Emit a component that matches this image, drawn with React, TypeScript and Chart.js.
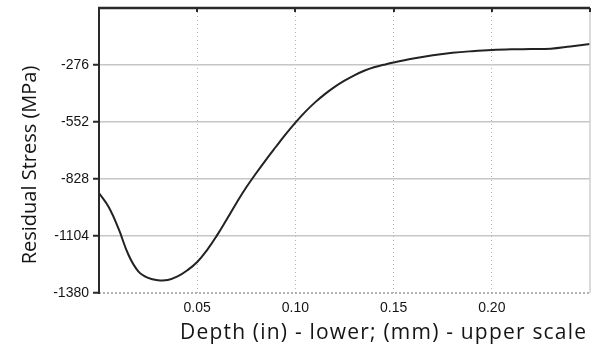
import React, { useEffect, useRef } from "react";
import { Chart, registerables, Plugin } from "chart.js";

Chart.register(...registerables);

// Depth (in) and measured residual stress (MPa) along the profile
const depthIn = [
  0, 0.005, 0.01, 0.015, 0.02, 0.025, 0.03, 0.035, 0.04, 0.045, 0.05, 0.055,
  0.06, 0.065, 0.07, 0.075, 0.08, 0.085, 0.09, 0.095, 0.1, 0.105, 0.11, 0.115,
  0.12, 0.125, 0.13, 0.135, 0.14, 0.145, 0.15, 0.16, 0.17, 0.18, 0.19, 0.2,
  0.21, 0.22, 0.23, 0.24, 0.25,
];
const stressMPa = [
  -896, -965, -1070, -1195, -1275, -1307, -1318, -1317, -1300, -1270, -1230,
  -1172, -1102, -1024, -944, -868, -800, -735, -673, -612, -555, -503, -457,
  -417, -382, -352, -326, -304, -287, -275, -264, -245, -229, -217, -209, -203,
  -200, -199, -197, -186, -174,
];

// Axis ranges and labelled ticks
const xMin = 0;
const xMax = 0.25;
const xStep = 0.05;
const yMin = -1380;
const yMax = 0;
const yStep = 276;

const yTitle = "Residual Stress (MPa)";
const xTitle = "Depth (in) - lower; (mm) - upper scale";

const TICK_FONT = "Liberation Sans, Arial, sans-serif";
const TITLE_FONT = "'Open Sans', 'Noto Sans', sans-serif";

// Frame, top tick marks and axis titles
const framePlugin: Plugin = {
  id: "frame",
  afterDraw(chart) {
    const { ctx, chartArea } = chart;
    const { left, right, top, bottom } = chartArea;
    const xs = chart.scales.x;
    ctx.save();

    // bottom edge: dotted grey
    ctx.strokeStyle = "#9a9a9a";
    ctx.lineWidth = 1.5;
    ctx.setLineDash([2, 2]);
    ctx.beginPath();
    ctx.moveTo(left, bottom);
    ctx.lineTo(right, bottom);
    ctx.stroke();
    ctx.setLineDash([]);

    // right edge: light grey
    ctx.strokeStyle = "#cfcfcf";
    ctx.lineWidth = 1.5;
    ctx.beginPath();
    ctx.moveTo(right, top);
    ctx.lineTo(right, bottom);
    ctx.stroke();

    // top and left edges: dark
    ctx.strokeStyle = "#2a2a2a";
    ctx.lineWidth = 2.5;
    ctx.beginPath();
    ctx.moveTo(left - 1, top);
    ctx.lineTo(right, top);
    ctx.stroke();
    ctx.lineWidth = 2;
    ctx.beginPath();
    ctx.moveTo(left, top);
    ctx.lineTo(left, bottom + 1);
    ctx.stroke();

    // small tick marks hanging from the top edge
    ctx.lineWidth = 2;
    for (let v = xMin + xStep; v < xMax - 1e-9; v += xStep) {
      const px = Math.round(xs.getPixelForValue(v));
      ctx.beginPath();
      ctx.moveTo(px, top);
      ctx.lineTo(px, top + 4);
      ctx.stroke();
    }
    const rightPx = xs.getPixelForValue(xMax);
    ctx.beginPath();
    ctx.moveTo(rightPx, top);
    ctx.lineTo(rightPx, top + 4);
    ctx.stroke();

    // axis titles
    ctx.fillStyle = "#141414";
    ctx.textAlign = "center";
    ctx.textBaseline = "middle";

    // x title is set a little looser so it spans most of the axis
    ctx.font = `21px ${TITLE_FONT}`;
    const natural = ctx.measureText(xTitle).width;
    const wanted = 406;
    const extra = Math.max(0, (wanted - natural) / (xTitle.length - 1));
    (ctx as any).letterSpacing = `${extra.toFixed(2)}px`;
    ctx.fillText(xTitle, 383 + extra / 2, 333);
    (ctx as any).letterSpacing = "0px";

    ctx.font = `20px ${TITLE_FONT}`;
    ctx.save();
    ctx.translate(30, 165);
    ctx.rotate(-Math.PI / 2);
    ctx.fillText(yTitle, 0, 0);
    ctx.restore();

    ctx.restore();
  },
};

export default function App() {
  const canvasRef = useRef<HTMLCanvasElement | null>(null);

  useEffect(() => {
    if (!canvasRef.current) return;
    const points = depthIn.map((d, i) => ({ x: d, y: stressMPa[i] }));
    const chart = new Chart(canvasRef.current, {
      type: "line",
      data: {
        datasets: [
          {
            data: points,
            borderColor: "#222222",
            borderWidth: 2,
            pointRadius: 0,
            tension: 0.4,
            fill: false,
          },
        ],
      },
      plugins: [framePlugin],
      options: {
        animation: false,
        responsive: true,
        maintainAspectRatio: false,
        layout: { padding: { top: 8, right: 6, left: 0, bottom: 0 } },
        plugins: {
          legend: { display: false },
          tooltip: { enabled: false },
        },
        scales: {
          x: {
            type: "linear",
            min: xMin,
            max: xMax,
            afterFit: (s: any) => {
              s.height = 56;
              s.paddingLeft = 0;
              s.paddingRight = 0;
            },
            ticks: {
              stepSize: xStep,
              padding: 7,
              color: "#141414",
              font: { family: TICK_FONT, size: 14 },
              callback: (v: any) => {
                const n = Number(v);
                if (n <= xMin + 1e-9 || n >= xMax - 1e-9) return null;
                return n.toFixed(2);
              },
            },
            grid: {
              color: "#b5b5b5",
              lineWidth: 1,
              drawTicks: false,
            },
            border: { display: false, dash: [1, 3] },
          },
          y: {
            type: "linear",
            min: yMin,
            max: yMax,
            afterFit: (s: any) => {
              s.width = 99;
              s.paddingTop = 0;
              s.paddingBottom = 0;
            },
            ticks: {
              stepSize: yStep,
              padding: 4,
              color: "#141414",
              font: { family: TICK_FONT, size: 14 },
              callback: (v: any) => {
                const n = Number(v);
                if (n >= yMax) return null;
                return String(n);
              },
            },
            grid: {
              color: (c: any) =>
                c.tick && (c.tick.value === yMin || c.tick.value === yMax)
                  ? "rgba(0,0,0,0)"
                  : "#c6c6c6",
              lineWidth: 1.5,
              drawTicks: true,
              tickLength: 6,
              tickColor: "#2a2a2a",
              tickWidth: 2,
            },
            border: { display: false },
          },
        },
      },
    });
    return () => chart.destroy();
  }, []);

  return (
    <div
      style={{
        position: "fixed",
        left: 0,
        top: 0,
        width: 596,
        height: 349,
        background: "#ffffff",
      }}
    >
      <canvas ref={canvasRef} />
    </div>
  );
}
